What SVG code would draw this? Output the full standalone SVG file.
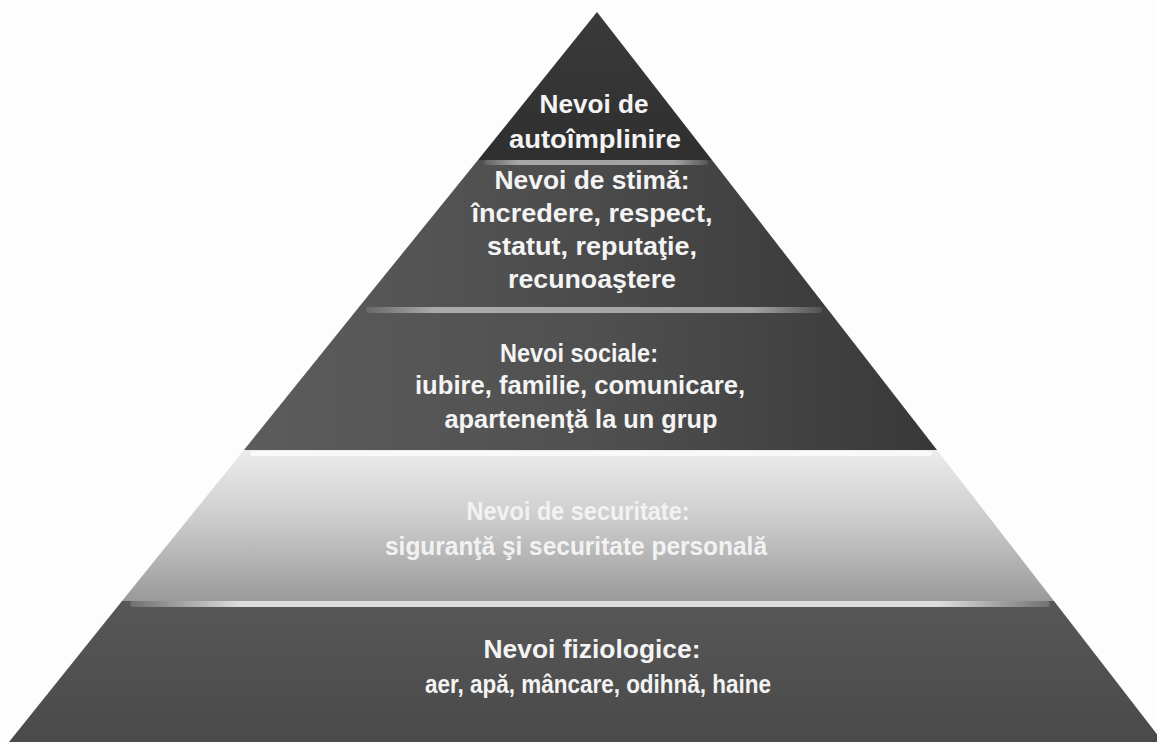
<svg xmlns="http://www.w3.org/2000/svg" width="1157" height="745" viewBox="0 0 1157 745">
  <defs>
    <style>
      .lbl { font-family: "Liberation Sans", Arial, sans-serif; font-weight: bold; font-size: 25px; fill: #f4f4f4; text-anchor: middle; }
      .lbl-light { fill: #f2f2f2; }
    </style>
    <linearGradient id="g1" x1="0" y1="0" x2="0" y2="1">
      <stop offset="0" stop-color="#3a3a3a"/>
      <stop offset="1" stop-color="#2f2f2f"/>
    </linearGradient>
    <linearGradient id="g2" x1="0" y1="0" x2="1" y2="0">
      <stop offset="0" stop-color="#575757"/>
      <stop offset="0.5" stop-color="#4b4b4b"/>
      <stop offset="1" stop-color="#3c3c3c"/>
    </linearGradient>
    <linearGradient id="g3" x1="0" y1="0" x2="1" y2="0">
      <stop offset="0" stop-color="#5c5c5c"/>
      <stop offset="0.5" stop-color="#505050"/>
      <stop offset="1" stop-color="#383838"/>
    </linearGradient>
    <linearGradient id="g4" x1="0" y1="0" x2="0" y2="1">
      <stop offset="0" stop-color="#ececec"/>
      <stop offset="0.45" stop-color="#cdcdcd"/>
      <stop offset="1" stop-color="#9a9a9a"/>
    </linearGradient>
    <linearGradient id="g5" x1="0" y1="0" x2="0" y2="1">
      <stop offset="0" stop-color="#575757"/>
      <stop offset="1" stop-color="#4a4a4a"/>
    </linearGradient>
    <linearGradient id="hl" x1="0" y1="0" x2="1" y2="0">
      <stop offset="0" stop-color="#ffffff" stop-opacity="0.15"/>
      <stop offset="0.12" stop-color="#ffffff" stop-opacity="0.8"/>
      <stop offset="0.88" stop-color="#ffffff" stop-opacity="0.8"/>
      <stop offset="1" stop-color="#ffffff" stop-opacity="0.15"/>
    </linearGradient>
    <linearGradient id="hlSoft" x1="0" y1="0" x2="1" y2="0">
      <stop offset="0" stop-color="#ffffff" stop-opacity="0.1"/>
      <stop offset="0.15" stop-color="#ffffff" stop-opacity="0.5"/>
      <stop offset="0.85" stop-color="#ffffff" stop-opacity="0.5"/>
      <stop offset="1" stop-color="#ffffff" stop-opacity="0.1"/>
    </linearGradient>
  </defs>

  <rect x="0" y="0" width="1157" height="745" fill="#fdfdfd"/>

  <g id="tier-fiziologice">
    <polygon points="122,601 1054,601 1163,742 9,742" fill="url(#g5)"/>
    <rect x="130" y="601" width="920" height="6" rx="3" fill="url(#hl)"/>
    <text class="lbl" x="592" y="658" textLength="217" lengthAdjust="spacingAndGlyphs">Nevoi fiziologice:</text>
    <text class="lbl" x="598" y="693" textLength="346" lengthAdjust="spacingAndGlyphs">aer, apă, mâncare, odihnă, haine</text>
  </g>

  <g id="tier-securitate">
    <polygon points="244,450 937,450 1054,601 122,601" fill="url(#g4)"/>
    <rect x="250" y="451" width="682" height="5" rx="2.5" fill="#ffffff" fill-opacity="0.7"/>
    <text class="lbl lbl-light" x="578" y="520" textLength="223" lengthAdjust="spacingAndGlyphs">Nevoi de securitate:</text>
    <text class="lbl lbl-light" x="576" y="555" textLength="382" lengthAdjust="spacingAndGlyphs">siguranţă şi securitate personală</text>
  </g>

  <g id="tier-sociale">
    <polygon points="359,307 826,307 937,450 244,450" fill="url(#g3)"/>
    <rect x="366" y="307" width="456" height="6" rx="3" fill="url(#hlSoft)"/>
    <text class="lbl" x="579" y="362" textLength="158" lengthAdjust="spacingAndGlyphs">Nevoi  sociale:</text>
    <text class="lbl" x="580" y="394" textLength="330" lengthAdjust="spacingAndGlyphs">iubire, familie, comunicare,</text>
    <text class="lbl" x="581" y="428" textLength="273" lengthAdjust="spacingAndGlyphs">apartenenţă la un grup</text>
  </g>

  <g id="tier-stima">
    <polygon points="478,160 712,160 826,307 359,307" fill="url(#g2)"/>
    <rect x="484" y="160" width="224" height="5" rx="2.5" fill="url(#hlSoft)"/>
    <text class="lbl" x="592" y="189" textLength="195" lengthAdjust="spacingAndGlyphs">Nevoi de stimă:</text>
    <text class="lbl" x="592" y="222" textLength="241" lengthAdjust="spacingAndGlyphs">încredere, respect,</text>
    <text class="lbl" x="592" y="255" textLength="210" lengthAdjust="spacingAndGlyphs">statut, reputaţie,</text>
    <text class="lbl" x="592" y="288" textLength="168" lengthAdjust="spacingAndGlyphs">recunoaştere</text>
  </g>

  <g id="tier-autoimplinire">
    <polygon points="597,12 712,160 478,160" fill="url(#g1)"/>
    <text class="lbl" x="594" y="113" textLength="109" lengthAdjust="spacingAndGlyphs">Nevoi de</text>
    <text class="lbl" x="595" y="148" textLength="172" lengthAdjust="spacingAndGlyphs">autoîmplinire</text>
  </g>

  <g id="connectors"/>
</svg>
